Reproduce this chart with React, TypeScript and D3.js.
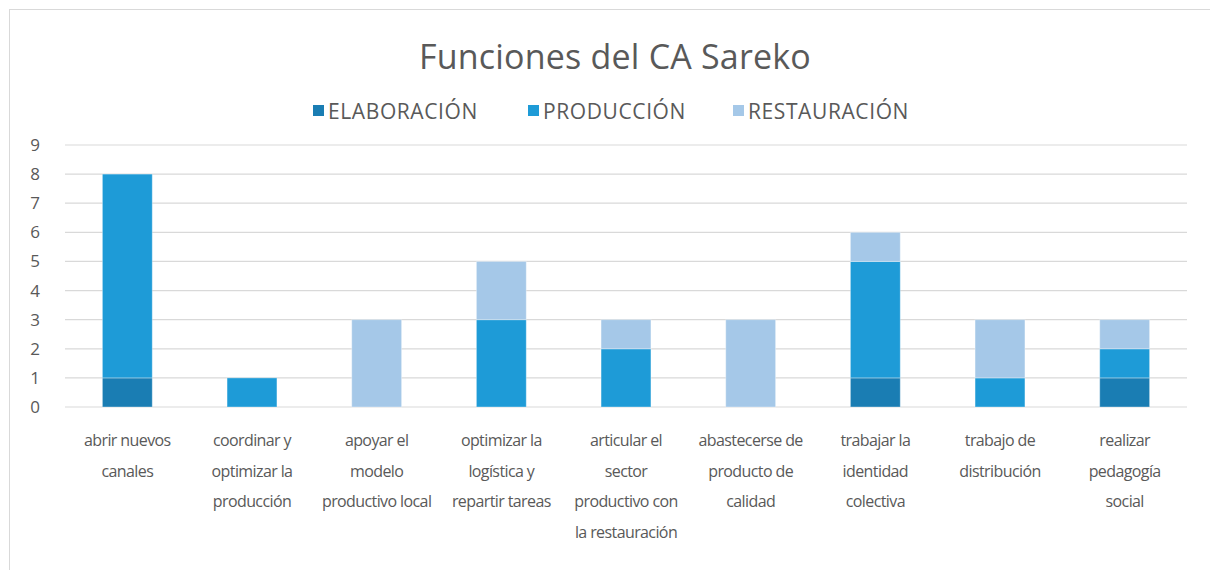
import React from "react";
import * as d3 from "d3";

const categories: string[][] = [
  ["abrir nuevos", "canales"],
  ["coordinar y", "optimizar la", "producción"],
  ["apoyar el", "modelo", "productivo local"],
  ["optimizar la", "logística y", "repartir tareas"],
  ["articular el", "sector", "productivo con", "la restauración"],
  ["abastecerse de", "producto de", "calidad"],
  ["trabajar la", "identidad", "colectiva"],
  ["trabajo de", "distribución"],
  ["realizar", "pedagogía", "social"],
];

const seriesNames = ["ELABORACIÓN", "PRODUCCIÓN", "RESTAURACIÓN"];
const elaboracion = [1, 0, 0, 0, 0, 0, 1, 0, 1];
const produccion = [7, 1, 0, 3, 2, 0, 4, 1, 1];
const restauracion = [0, 0, 3, 2, 1, 3, 1, 2, 1];
const yTicks = [0, 1, 2, 3, 4, 5, 6, 7, 8, 9];
const colors = ["#1a7db3", "#1e9bd7", "#a5c8e8"];

const W = 1210;
const H = 570;
const plotL = 65;
const plotR = 1187;
const plotT = 145;
const plotB = 407;
const FONT = "'Open Sans', 'DejaVu Sans', sans-serif";
const TXT = "#595959";

export default function App() {
  const idx = categories.map((_, i) => i);
  const x = d3.scaleBand<number>().domain(idx).range([plotL, plotR]).paddingInner(0.6).paddingOuter(0.3);
  const y = d3.scaleLinear().domain([0, 9]).range([plotB, plotT]);
  const rows = idx.map((i) => ({ i, e: elaboracion[i], p: produccion[i], r: restauracion[i] }));
  const stack = d3.stack<any>().keys(["e", "p", "r"])(rows);
  const step = (plotR - plotL) / categories.length;

  const legendX = [313, 528, 733];

  return (
    <svg width={W} height={H} style={{ position: "absolute", left: 0, top: 0, background: "#fff" }}>
      <rect x={9.5} y={9.5} width={W + 10} height={H + 10} fill="#fff" stroke="#d9d9d9" strokeWidth={1} />
      <text x={615} y={69} textAnchor="middle" fontFamily={FONT} fontSize={34} fill={TXT} letterSpacing={0.2}>
        Funciones del CA Sareko
      </text>
      {seriesNames.map((n, k) => (
        <g key={n}>
          <rect x={legendX[k]} y={105} width={11} height={11} fill={colors[k]} />
          <text x={legendX[k] + 15} y={118.5} fontFamily={FONT} fontSize={21} fill={TXT} letterSpacing={0.6}>
            {n}
          </text>
        </g>
      ))}
      {yTicks.map((t) => (
        <g key={t}>
          <line x1={plotL} x2={plotR} y1={y(t)} y2={y(t)} stroke="#d9d9d9" strokeWidth={1.2} />
          <text x={35} y={y(t) + 6} textAnchor="middle" fontFamily={FONT} fontSize={17} fill={TXT}>
            {t}
          </text>
        </g>
      ))}
      {stack.map((layer, k) =>
        layer.map((d: any, j: number) =>
          d[1] - d[0] > 0 ? (
            <rect
              key={`${k}-${j}`}
              x={x(j)!}
              y={y(d[1])}
              width={x.bandwidth()}
              height={y(d[0]) - y(d[1])}
              fill={colors[k]}
              stroke="#ffffff"
              strokeOpacity={0.35}
              strokeWidth={1}
            />
          ) : null
        )
      )}
      {categories.map((lines, i) => {
        const cx = plotL + step * (i + 0.5);
        return (
          <text key={i} textAnchor="middle" fontFamily={FONT} fontSize={16} fill={TXT} letterSpacing={-0.6}>
            {lines.map((l, m) => (
              <tspan key={m} x={cx} y={446 + m * 30.5}>
                {l}
              </tspan>
            ))}
          </text>
        );
      })}
    </svg>
  );
}
